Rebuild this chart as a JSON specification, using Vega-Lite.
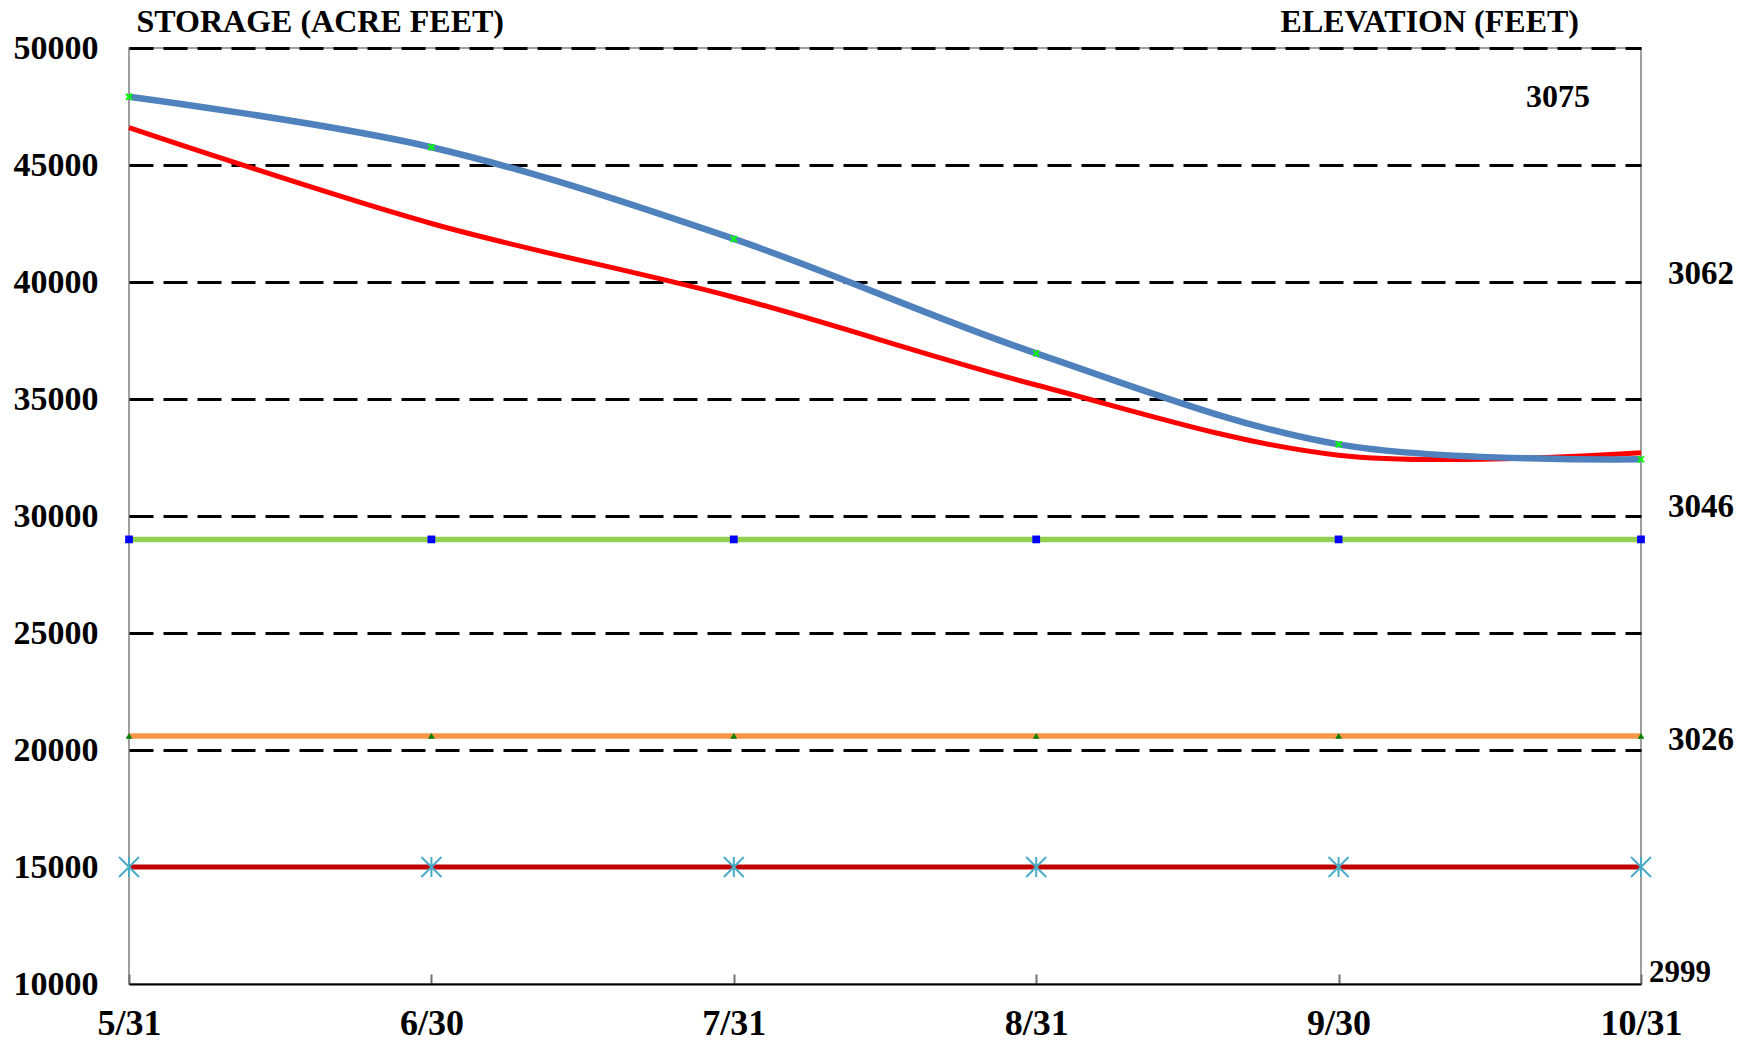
{
  "$schema": "https://vega.github.io/schema/vega-lite/v6.json",
  "width": 1512,
  "height": 936,
  "autosize": {"type": "none"},
  "padding": {"left": 129, "top": 48, "right": 111, "bottom": 59},
  "background": "white",
  "config": {"view": {"stroke": "#808080", "strokeWidth": 1.5}, "font": "Liberation Serif"},
  "datasets": {
    "series": [
      {"date": "5/31", "series": "Curve 1", "storage": 47920},
      {"date": "6/30", "series": "Curve 1", "storage": 45760},
      {"date": "7/31", "series": "Curve 1", "storage": 41840},
      {"date": "8/31", "series": "Curve 1", "storage": 36950},
      {"date": "9/30", "series": "Curve 1", "storage": 33060},
      {"date": "10/31", "series": "Curve 1", "storage": 32420},
      {"date": "5/31", "series": "Curve 2", "storage": 46600},
      {"date": "6/30", "series": "Curve 2", "storage": 42500},
      {"date": "7/31", "series": "Curve 2", "storage": 39350},
      {"date": "8/31", "series": "Curve 2", "storage": 35600},
      {"date": "9/30", "series": "Curve 2", "storage": 32600},
      {"date": "10/31", "series": "Curve 2", "storage": 32700},
      {"date": "5/31", "series": "Level 1", "storage": 29000},
      {"date": "6/30", "series": "Level 1", "storage": 29000},
      {"date": "7/31", "series": "Level 1", "storage": 29000},
      {"date": "8/31", "series": "Level 1", "storage": 29000},
      {"date": "9/30", "series": "Level 1", "storage": 29000},
      {"date": "10/31", "series": "Level 1", "storage": 29000},
      {"date": "5/31", "series": "Level 2", "storage": 20600},
      {"date": "6/30", "series": "Level 2", "storage": 20600},
      {"date": "7/31", "series": "Level 2", "storage": 20600},
      {"date": "8/31", "series": "Level 2", "storage": 20600},
      {"date": "9/30", "series": "Level 2", "storage": 20600},
      {"date": "10/31", "series": "Level 2", "storage": 20600},
      {"date": "5/31", "series": "Level 3", "storage": 15000},
      {"date": "6/30", "series": "Level 3", "storage": 15000},
      {"date": "7/31", "series": "Level 3", "storage": 15000},
      {"date": "8/31", "series": "Level 3", "storage": 15000},
      {"date": "9/30", "series": "Level 3", "storage": 15000},
      {"date": "10/31", "series": "Level 3", "storage": 15000}
    ],
    "elev": [
      {"elevation": "3075", "storage": 47900},
      {"elevation": "3062", "storage": 40350},
      {"elevation": "3046", "storage": 30400},
      {"elevation": "3026", "storage": 20430},
      {"elevation": "2999", "storage": 10470}
    ],
    "titles": [
      {"title": "ELEVATION (FEET)"}
    ]
  },
  "layer": [
    {
      "data": {"name": "series"},
      "transform": [{"filter": "datum.series == 'Level 3'"}],
      "mark": {"type": "line", "color": "#C00000", "strokeWidth": 5},
      "encoding": {
        "x": {"field": "date", "type": "ordinal",
          "scale": {"type": "point", "padding": 0, "domain": ["5/31", "6/30", "7/31", "8/31", "9/30", "10/31"]},
          "axis": {"title": null, "labelAngle": 0, "labelFont": "Liberation Serif", "labelFontWeight": "bold", "labelFontSize": 36, "labelColor": "black", "labelBaseline": "alphabetic", "labelPadding": 60, "domainColor": "black", "domainWidth": 2, "ticks": true, "tickColor": "#707070", "tickWidth": 2, "tickSize": -10, "grid": false}},
        "y": {"field": "storage", "type": "quantitative",
          "scale": {"domain": [10000, 50000], "nice": false, "zero": false},
          "axis": {"values": [10000, 15000, 20000, 25000, 30000, 35000, 40000, 45000, 50000], "format": "d",
            "labelFont": "Liberation Serif", "labelFontWeight": "bold", "labelFontSize": 34, "labelColor": "black", "labelPadding": 31, "labelBaseline": "middle",
            "ticks": false, "tickSize": 0, "domain": false,
            "grid": true, "gridColor": "black", "gridDash": [24, 10], "gridWidth": 3,
            "gridOpacity": {"condition": {"test": "datum.value == 10000", "value": 0}, "value": 1},
            "title": "STORAGE (ACRE FEET)", "titleAngle": 0, "titleAlign": "left", "titleBaseline": "alphabetic", "titleX": 7, "titleY": -17,
            "titleFont": "Liberation Serif", "titleFontSize": 32, "titleFontWeight": "bold", "titleColor": "black"}}
      }
    },
    {
      "data": {"name": "series"},
      "transform": [{"filter": "datum.series == 'Level 2'"}],
      "mark": {"type": "line", "color": "#F79646", "strokeWidth": 5.5},
      "encoding": {"x": {"field": "date", "type": "ordinal"}, "y": {"field": "storage", "type": "quantitative"}}
    },
    {
      "data": {"name": "series"},
      "transform": [{"filter": "datum.series == 'Level 1'"}],
      "mark": {"type": "line", "color": "#92D050", "strokeWidth": 5.5},
      "encoding": {"x": {"field": "date", "type": "ordinal"}, "y": {"field": "storage", "type": "quantitative"}}
    },
    {
      "data": {"name": "series"},
      "transform": [{"filter": "datum.series == 'Curve 2'"}],
      "mark": {"type": "line", "color": "#FF0000", "strokeWidth": 5, "interpolate": "catmull-rom"},
      "encoding": {"x": {"field": "date", "type": "ordinal"}, "y": {"field": "storage", "type": "quantitative"}}
    },
    {
      "data": {"name": "series"},
      "transform": [{"filter": "datum.series == 'Curve 1'"}],
      "mark": {"type": "line", "color": "#4F81BD", "strokeWidth": 6.5, "interpolate": "catmull-rom"},
      "encoding": {"x": {"field": "date", "type": "ordinal"}, "y": {"field": "storage", "type": "quantitative"}}
    },
    {
      "data": {"name": "series"},
      "transform": [{"filter": "datum.series == 'Curve 1'"}],
      "mark": {"type": "point", "shape": "M-1,-1L1,1M-1,1L1,-1", "size": 36, "stroke": "#00FF00", "strokeWidth": 2, "filled": false, "opacity": 1},
      "encoding": {"x": {"field": "date", "type": "ordinal"}, "y": {"field": "storage", "type": "quantitative"}}
    },
    {
      "data": {"name": "series"},
      "transform": [{"filter": "datum.series == 'Level 1'"}],
      "mark": {"type": "point", "shape": "square", "size": 60, "color": "#0000FF", "filled": true, "opacity": 1},
      "encoding": {"x": {"field": "date", "type": "ordinal"}, "y": {"field": "storage", "type": "quantitative"}}
    },
    {
      "data": {"name": "series"},
      "transform": [{"filter": "datum.series == 'Level 2'"}],
      "mark": {"type": "point", "shape": "triangle-up", "size": 45, "color": "#008000", "filled": true, "opacity": 1},
      "encoding": {"x": {"field": "date", "type": "ordinal"}, "y": {"field": "storage", "type": "quantitative"}}
    },
    {
      "data": {"name": "series"},
      "transform": [{"filter": "datum.series == 'Level 3'"}],
      "mark": {"type": "point", "shape": "M-1,-1L1,1M-1,1L1,-1M0,-1L0,1", "size": 400, "stroke": "#4BACC6", "strokeWidth": 2, "filled": false, "opacity": 1},
      "encoding": {"x": {"field": "date", "type": "ordinal"}, "y": {"field": "storage", "type": "quantitative"}}
    },
    {
      "data": {"name": "elev"},
      "transform": [{"filter": "datum.elevation == '3075'"}],
      "mark": {"type": "text", "align": "left", "baseline": "middle", "dx": -115, "font": "Liberation Serif", "fontWeight": "bold", "fontSize": 32, "color": "black"},
      "encoding": {"x": {"datum": "10/31", "type": "ordinal"}, "y": {"field": "storage", "type": "quantitative"}, "text": {"field": "elevation"}}
    },
    {
      "data": {"name": "elev"},
      "transform": [{"filter": "datum.elevation == '3062' || datum.elevation == '3046' || datum.elevation == '3026'"}],
      "mark": {"type": "text", "align": "left", "baseline": "middle", "dx": 27, "font": "Liberation Serif", "fontWeight": "bold", "fontSize": 33, "color": "black"},
      "encoding": {"x": {"datum": "10/31", "type": "ordinal"}, "y": {"field": "storage", "type": "quantitative"}, "text": {"field": "elevation"}}
    },
    {
      "data": {"name": "elev"},
      "transform": [{"filter": "datum.elevation == '2999'"}],
      "mark": {"type": "text", "align": "left", "baseline": "middle", "dx": 8, "font": "Liberation Serif", "fontWeight": "bold", "fontSize": 31, "color": "black"},
      "encoding": {"x": {"datum": "10/31", "type": "ordinal"}, "y": {"field": "storage", "type": "quantitative"}, "text": {"field": "elevation"}}
    },
    {
      "data": {"name": "titles"},
      "mark": {"type": "text", "align": "right", "baseline": "alphabetic", "dx": -62, "dy": -16, "font": "Liberation Serif", "fontWeight": "bold", "fontSize": 32, "color": "black"},
      "encoding": {"x": {"datum": "10/31", "type": "ordinal"}, "y": {"datum": 50000, "type": "quantitative"}, "text": {"field": "title"}}
    }
  ]
}
